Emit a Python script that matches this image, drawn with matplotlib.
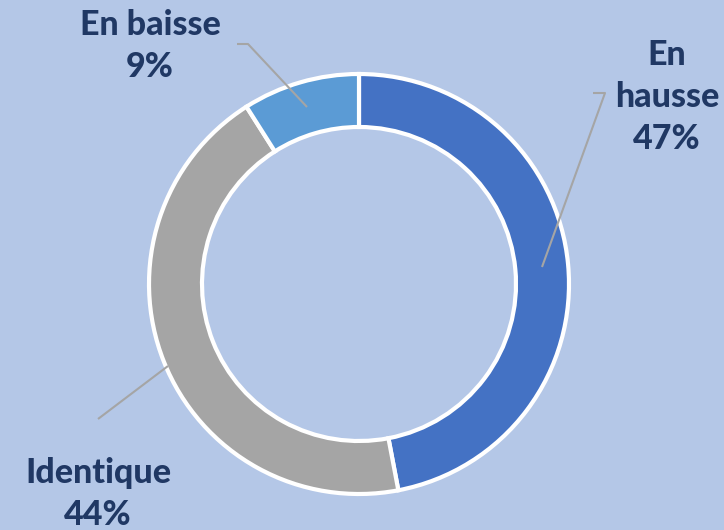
import matplotlib.pyplot as plt

labels = ['En\nhausse', 'Identique', 'En baisse']
values = [47, 44, 9]
colors = ['#4472C4', '#A5A5A5', '#5B9BD5']

bg = '#B4C7E7'
txt = '#203864'

W, H = 724, 530
fig = plt.figure(figsize=(W / 100, H / 100), dpi=100, facecolor=bg)
ax = fig.add_axes([0, 0, 1, 1])
ax.set_facecolor(bg)

cx, cy, r = 359, H - 284, 210
ax.pie(values, colors=colors, startangle=90, counterclock=False,
       center=(cx, cy), radius=r, frame=True,
       wedgeprops=dict(width=53, edgecolor='white', linewidth=3))
ax.set_xlim(0, W)
ax.set_ylim(0, H)
ax.set_aspect('equal')
ax.axis('off')

# leader lines (pixel coords from top)
leaders = [
    [(593, 93), (605, 93), (542, 267)],
    [(168, 366), (98, 419)],
    [(237, 44), (248, 44), (307, 107)],
]
for pts in leaders:
    xs = [p[0] for p in pts]
    ys = [H - p[1] for p in pts]
    ax.plot(xs, ys, color='#A5A5A5', lw=1.5, solid_capstyle='butt')

label_pos = [(667, 97), (98, 494), (150, 46)]
for lab, v, (x, y) in zip(labels, values, label_pos):
    ax.text(x, H - y, f'{lab}\n{v}%', ha='center', va='center',
            fontsize=24.5, fontweight='black', color=txt,
            family='Lato', linespacing=1.4)

fig.savefig('out.png', dpi=100, facecolor=bg)
